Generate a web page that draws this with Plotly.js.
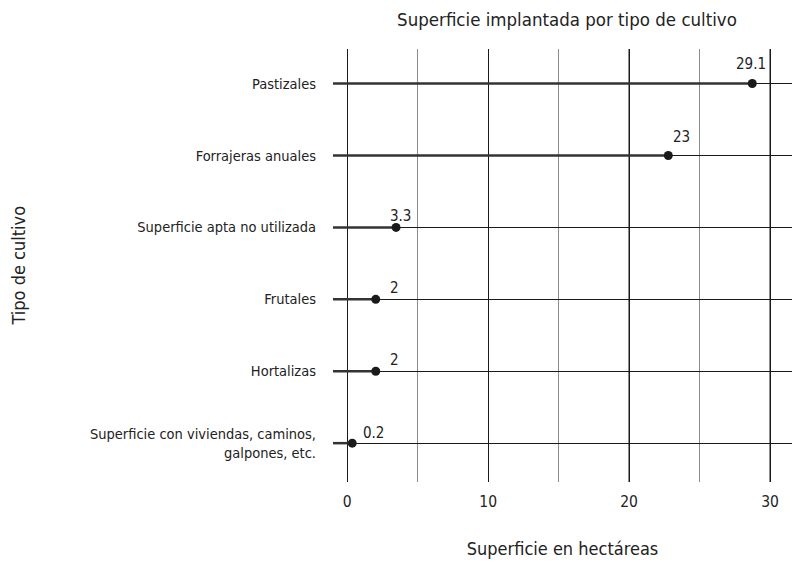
<!DOCTYPE html>
<html>
<head>
<meta charset="utf-8">
<script src="https://cdn.plot.ly/plotly-3.0.1.min.js"></script>
<style>html,body{margin:0;padding:0;background:#fff;}#chart{width:792px;height:563px;}</style>
</head>
<body>
<div id="chart"></div>
<script>
// Data (bottom to top)
const categories = [
  "Superficie con viviendas, caminos,<br>galpones, etc.",
  "Hortalizas",
  "Frutales",
  "Superficie apta no utilizada",
  "Forrajeras anuales",
  "Pastizales"
];
const values = [0.35, 2.02, 2.02, 3.46, 22.78, 28.74];
const valueLabels = ["0.2", "2", "2", "3.3", "23", "29.1"];
const xTickValues = [0, 10, 20, 30];
const xTickLabels = ["0", "10", "20", "30"];

const titleText = "Superficie implantada por tipo de cultivo";
const xTitleText = "Superficie en hectáreas";
const yTitleText = "Tipo de cultivo";

// Style / layout constants
const FONT = '"Liberation Sans Narrow", "DejaVu Sans Condensed", "Roboto Condensed", sans-serif';
const TXT = '#222';
const xRange = [-1.015, 31.56];
const labelDx = [21, 19, 19, 4, 13, -1];
const labelDy = [10, 11, 11, 11, 18, 20];

const traces = [];
categories.forEach((c, i) => {
  traces.push({
    type: 'scatter', mode: 'lines',
    x: [xRange[0], values[i]], y: [c, c],
    line: {color: '#333', width: 2.5},
    hoverinfo: 'skip', showlegend: false, cliponaxis: false
  });
});
traces.push({
  type: 'scatter', mode: 'markers',
  x: values, y: categories,
  marker: {color: '#1a1a1a', size: 9},
  showlegend: false
});

const annotations = categories.map((c, i) => ({
  x: values[i], y: c, xref: 'x', yref: 'y',
  text: valueLabels[i], showarrow: false,
  xanchor: 'center', yanchor: 'middle',
  xshift: labelDx[i], yshift: labelDy[i],
  font: {family: FONT, size: 15, color: TXT}
}));
annotations.push({
  x: (18 - 333) / 459, y: 0.5, xref: 'paper', yref: 'paper',
  text: yTitleText, showarrow: false, textangle: -90,
  xanchor: 'center', yanchor: 'middle',
  font: {family: FONT, size: 18, color: TXT}
});

const layout = {
  width: 792, height: 563,
  margin: {l: 333, r: 0, t: 49, b: 81, pad: 0},
  paper_bgcolor: '#fff', plot_bgcolor: '#fff',
  font: {family: FONT, size: 14.5, color: TXT},
  title: {text: titleText, font: {family: FONT, size: 18.5, color: TXT}, x: (567 - 333) / 459, xref: 'paper', xanchor: 'center', y: 1 - 20/563, yanchor: 'middle'},
  xaxis: {
    range: xRange, tickvals: xTickValues, ticktext: xTickLabels,
    showgrid: true, gridcolor: '#1a1a1a', gridwidth: 1,
    minor: {dtick: 5, tick0: 0, showgrid: true, gridcolor: '#8c8c8c', gridwidth: 1.3},
    zeroline: false, showline: false, ticks: '',
    ticklabelstandoff: 8,
    tickfont: {family: FONT, size: 15.5, color: TXT},
    title: {text: xTitleText, font: {family: FONT, size: 18, color: TXT}, standoff: 32}
  },
  yaxis: {
    type: 'category', categoryorder: 'array', categoryarray: categories,
    range: [-0.54, 5.48],
    showgrid: true, gridcolor: '#1a1a1a', gridwidth: 1,
    zeroline: false, showline: false, ticks: '',
    ticklabelstandoff: 16,
    tickfont: {family: FONT, size: 14.5, color: TXT}
  },
  annotations: annotations
};

Plotly.newPlot('chart', traces, layout, {displayModeBar: false, staticPlot: true});
</script>
</body>
</html>
